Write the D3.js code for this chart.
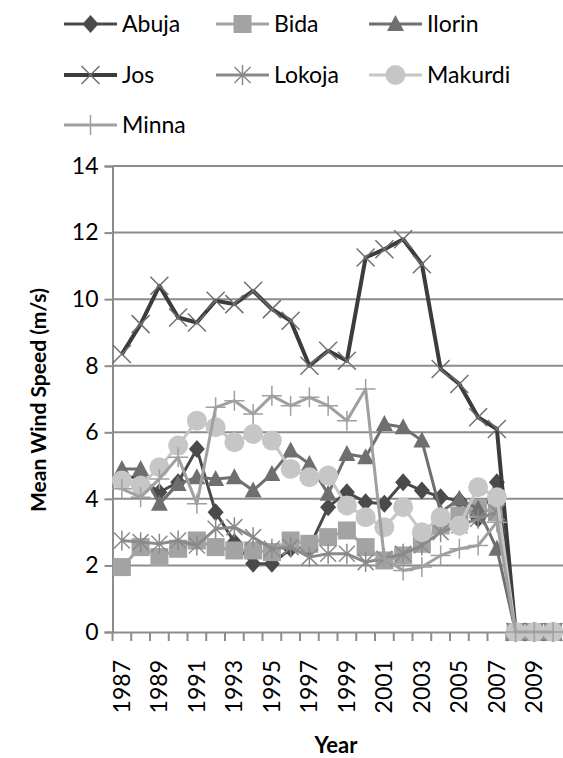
<!DOCTYPE html>
<html>
<head>
<meta charset="utf-8">
<script src="https://cdn.jsdelivr.net/npm/d3@7"></script>
<style>
	body { margin: 0; background: #fff; }
	text { font-family: Lato, 'Open Sans', sans-serif; fill: #000; }
</style>
</head>
<body>
<script>
var years = d3.range(1987, 2011);
var yTicks = [0, 2, 4, 6, 8, 10, 12, 14];

var abuja   = [4.7, 4.6, 4.2, 4.5, 5.5, 3.6, 2.7, 2.05, 2.05, 2.5, 2.55, 3.75, 4.2, 3.9, 3.85, 4.5, 4.25, 4.05, 3.95, 3.4, 4.5, 0, 0, 0];
var bida    = [1.95, 2.55, 2.25, 2.5, 2.75, 2.55, 2.45, 2.45, 2.4, 2.75, 2.65, 2.85, 3.05, 2.55, 2.15, 2.3, 2.65, 3.2, 3.5, 3.7, 3.6, 0, 0, 0];
var ilorin  = [4.9, 4.9, 3.85, 4.45, 4.65, 4.6, 4.65, 4.25, 4.75, 5.45, 5.05, 4.15, 5.35, 5.25, 6.25, 6.15, 5.75, 3.6, 4.0, 3.7, 2.5, 0, 0, 0];
var jos     = [8.35, 9.25, 10.4, 9.45, 9.3, 9.95, 9.85, 10.25, 9.7, 9.35, 8.0, 8.45, 8.15, 11.25, 11.5, 11.8, 11.05, 7.9, 7.45, 6.45, 6.1, 0, 0, 0];
var lokoja  = [2.75, 2.7, 2.65, 2.75, 2.6, 3.1, 3.15, 2.85, 2.5, 2.55, 2.25, 2.35, 2.35, 2.1, 2.2, 2.35, 2.6, 3.0, 3.2, 3.4, 3.6, 0, 0, 0];
var makurdi = [4.55, 4.4, 4.95, 5.6, 6.35, 6.15, 5.7, 5.95, 5.75, 4.9, 4.65, 4.7, 3.8, 3.45, 3.15, 3.75, 3.0, 3.45, 3.2, 4.35, 4.05, 0, 0, 0];
var minna   = [4.3, 4.05, 4.6, 5.25, 3.85, 6.75, 6.95, 6.55, 7.1, 6.8, 7.05, 6.8, 6.35, 7.3, 2.2, 1.85, 1.95, 2.3, 2.5, 2.6, 3.3, 0, 0, 0];

var series = [
	{name: 'Abuja',   values: abuja,   color: '#4a4a4a', mark: 'diamond',  lw: 3},
	{name: 'Bida',    values: bida,    color: '#a3a3a3', mark: 'square',   lw: 3},
	{name: 'Ilorin',  values: ilorin,  color: '#6f6f6f', mark: 'triangle', lw: 3},
	{name: 'Jos',     values: jos,     color: '#3c3c3c', mark: 'x',        lw: 4},
	{name: 'Lokoja',  values: lokoja,  color: '#8a8a8a', mark: 'star',     lw: 3},
	{name: 'Makurdi', values: makurdi, color: '#c6c6c6', mark: 'circle',   lw: 3},
	{name: 'Minna',   values: minna,   color: '#a0a0a0', mark: 'plus',     lw: 3}
];

var svg = d3.select('body').append('svg')
	.attr('width', 563)
	.attr('height', 758);

var x = d3.scaleBand()
	.domain(years)
	.range([112.5, 562.5]);

var y = d3.scaleLinear()
	.domain([0, 14])
	.range([632, 166]);

// gridlines
svg.append('g')
	.selectAll('line')
	.data(yTicks.slice(1))
	.enter().append('line')
	.attr('x1', 112.5)
	.attr('x2', 563)
	.attr('y1', function(d){ return y(d); })
	.attr('y2', function(d){ return y(d); })
	.attr('stroke', '#8c8c8c')
	.attr('stroke-width', 2);

// y axis
var yAxis = svg.append('g')
	.attr('transform', 'translate(112.5,0)')
	.call(d3.axisLeft(y).tickValues(yTicks).tickSize(8).tickPadding(6));
yAxis.selectAll('text').style('font-size', '23px');

// x axis, ticks between categories
var xAxis = svg.append('g')
	.attr('transform', 'translate(0,' + y(0) + ')')
	.call(d3.axisBottom(x).tickSize(0).tickFormat(''));
xAxis.selectAll('.tick').remove();
xAxis.selectAll('.xt')
	.data(years)
	.enter().append('line')
	.attr('x1', function(d){ return x(d); })
	.attr('x2', function(d){ return x(d); })
	.attr('y1', 0)
	.attr('y2', 9);

svg.selectAll('.domain, .tick line')
	.attr('stroke', '#8c8c8c')
	.attr('stroke-width', 2);
xAxis.selectAll('line').attr('stroke', '#8c8c8c').attr('stroke-width', 2);

svg.append('g')
	.selectAll('text')
	.data(years.filter(function(d){ return (d - 1987) % 2 == 0; }))
	.enter().append('text')
	.attr('transform', function(d){
		return 'translate(' + (x(d) + x.bandwidth() / 2) + ',660) rotate(-90)';
	})
	.attr('dy', '0.35em')
	.attr('text-anchor', 'end')
	.style('font-size', '23px')
	.text(function(d){ return d; });

// axis titles
svg.append('text')
	.attr('transform', 'translate(46,400) rotate(-90)')
	.attr('text-anchor', 'middle')
	.style('font-size', '21px')
	.style('font-weight', 'bold')
	.text('Mean Wind Speed (m/s)');

svg.append('text')
	.attr('x', 336)
	.attr('y', 753)
	.attr('text-anchor', 'middle')
	.style('font-size', '22px')
	.style('font-weight', 'bold')
	.text('Year');

// marker drawing
function marker(g, type, color, cx, cy) {
	if (type == 'diamond') {
		g.append('path').attr('d', 'M0,-9L8,0L0,9L-8,0Z')
			.attr('transform', 'translate(' + cx + ',' + cy + ')').attr('fill', color);
	} else if (type == 'square') {
		g.append('rect').attr('x', cx - 9).attr('y', cy - 9)
			.attr('width', 18).attr('height', 18).attr('fill', color);
	} else if (type == 'triangle') {
		g.append('path').attr('d', 'M0,-9L8.5,7L-8.5,7Z')
			.attr('transform', 'translate(' + cx + ',' + cy + ')').attr('fill', color);
	} else if (type == 'circle') {
		g.append('circle').attr('cx', cx).attr('cy', cy).attr('r', 10).attr('fill', color);
	} else if (type == 'x') {
		g.append('path').attr('d', 'M-9,-9L9,9M9,-9L-9,9')
			.attr('transform', 'translate(' + cx + ',' + cy + ')')
			.attr('stroke', '#707070').attr('stroke-width', 1.5).attr('fill', 'none');
	} else if (type == 'star') {
		g.append('path').attr('d', 'M-8,-8L8,8M8,-8L-8,8M0,-10L0,10')
			.attr('transform', 'translate(' + cx + ',' + cy + ')')
			.attr('stroke', color).attr('stroke-width', 1.5).attr('fill', 'none');
	} else if (type == 'plus') {
		g.append('path').attr('d', 'M-10,0L10,0M0,-10L0,10')
			.attr('transform', 'translate(' + cx + ',' + cy + ')')
			.attr('stroke', color).attr('stroke-width', 1.5).attr('fill', 'none');
	}
}

var line = d3.line()
	.x(function(d, i){ return x(years[i]) + x.bandwidth() / 2; })
	.y(function(d){ return y(d); });

// series
series.forEach(function(s){
	var g = svg.append('g');
	g.append('path')
		.attr('d', line(s.values))
		.attr('fill', 'none')
		.attr('stroke', s.color)
		.attr('stroke-width', s.lw)
		.attr('stroke-linejoin', 'round');
	s.values.forEach(function(v, i){
		marker(g, s.mark, s.color, x(years[i]) + x.bandwidth() / 2, y(v));
	});
});

// legend
var legendPos = [[64, 24], [216, 24], [369, 24], [64, 75], [216, 75], [369, 75], [64, 125]];
series.forEach(function(s, i){
	var lx = legendPos[i][0], ly = legendPos[i][1];
	var g = svg.append('g');
	g.append('line')
		.attr('x1', lx).attr('x2', lx + 53)
		.attr('y1', ly).attr('y2', ly)
		.attr('stroke', s.color)
		.attr('stroke-width', s.lw);
	marker(g, s.mark, s.color, lx + 26.5, ly);
	g.append('text')
		.attr('x', lx + 58)
		.attr('y', ly)
		.attr('dy', '0.35em')
		.style('font-size', '23px')
		.text(s.name);
});
</script>
</body>
</html>
